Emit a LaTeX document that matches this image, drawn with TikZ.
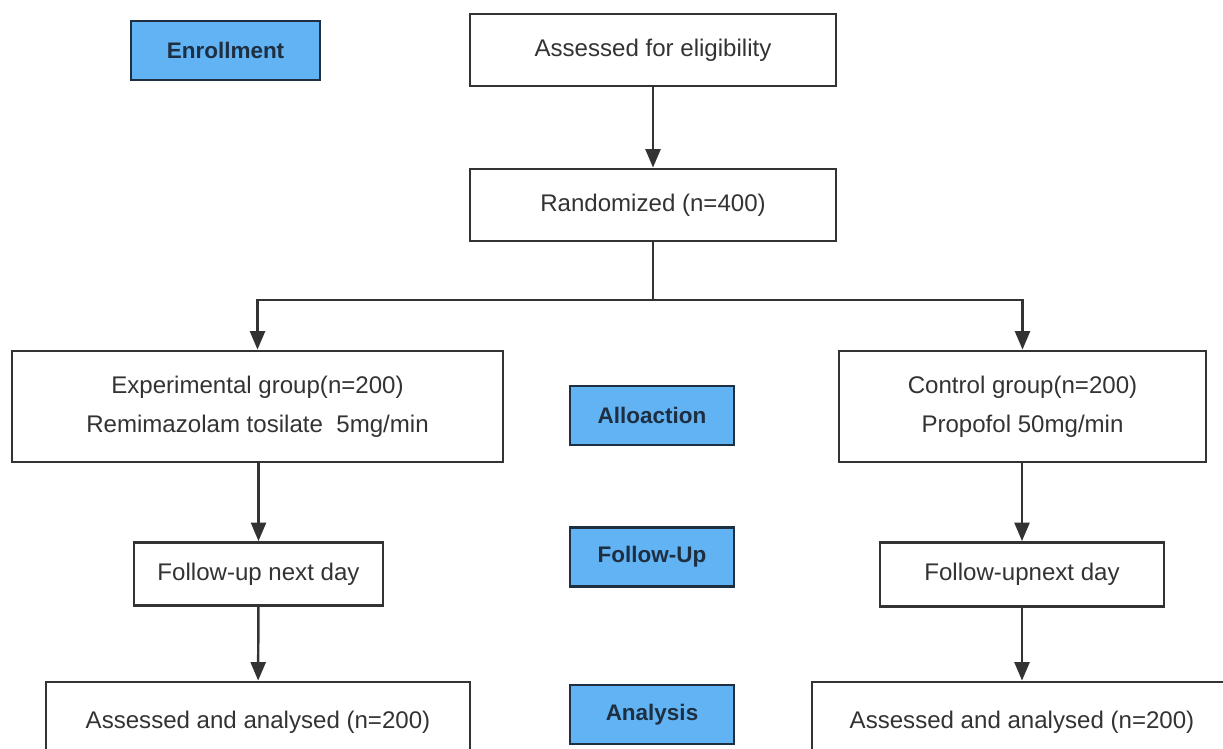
\documentclass[tikz,border=0pt]{standalone}
\usepackage{fontspec}
\setmainfont{Liberation Sans}
\usetikzlibrary{arrows.meta}
\definecolor{edgegray}{HTML}{333333}
\definecolor{phaseblue}{HTML}{62B3F4}
\definecolor{phasetext}{HTML}{1F2F42}

\begin{document}
\begin{tikzpicture}[x=0.02cm, y=-0.02cm,
    box/.style={draw=edgegray, line width=1.6pt, fill=white, text=edgegray,
      inner sep=0pt, align=center, font=\fontsize{13.7}{22}\selectfont},
    phase/.style={draw=phasetext, line width=1.6pt, fill=phaseblue, text=phasetext,
      inner sep=0pt, minimum width=3.28cm, minimum height=1.18cm,
      font=\fontsize{12.8}{15}\selectfont\bfseries},
    flow/.style={draw=edgegray, line width=1.4pt, -{Triangle[length=10.5pt,width=8.5pt]}}]
  \useasboundingbox (0,0) rectangle (1223,748);
  \clip (0,0) rectangle (1223,748);

  % Phase labels (blue)
  \node[phase, minimum width=3.78cm] (enrol) at (225.5,50.5) {Enrollment};
  \node[phase] (alloc) at (652,415.5) {Alloaction};
  \node[phase] (follow) at (652,557) {Follow-Up};
  \node[phase] (analysis) at (652,714.5) {Analysis};

  % Main flow
  \node[box, minimum width=7.32cm, minimum height=1.44cm] (assess) at (653,50) {Assessed for eligibility};
  \node[box, minimum width=7.32cm, minimum height=1.44cm] (random) at (653,205) {Randomized (n=400)};
  \node[box, minimum width=9.82cm, minimum height=2.22cm] (expgroup) at (257.5,406.5)
    {Experimental group(n=200)\\Remimazolam tosilate\ \ 5mg/min};
  \node[box, minimum width=7.34cm, minimum height=2.22cm] (ctrlgroup) at (1022.5,406.5)
    {Control group(n=200)\\Propofol 50mg/min};
  \node[box, minimum width=4.98cm, minimum height=1.26cm] (expfollow) at (258.5,574) {Follow-up next day};
  \node[box, minimum width=5.68cm, minimum height=1.28cm] (ctrlfollow) at (1022,574.5) {Follow-upnext day};
  \node[box, minimum width=8.48cm, minimum height=1.6cm] (expresult) at (258,722) {Assessed and analysed (n=200)};
  \node[box, minimum width=8.4cm, minimum height=1.6cm] (ctrlresult) at (1022,722) {Assessed and analysed (n=200)};

  % Connectors
  \coordinate (split) at (653,300);
  \draw[flow] (assess) -- (random);
  \draw[edgegray, line width=1.4pt] (random) -- (split);
  \draw[flow] (split) -| (expgroup);
  \draw[flow] (split) -| (ctrlgroup);
  \draw[flow] (expgroup.south -| expfollow) -- (expfollow);
  \draw[flow] (ctrlgroup.south -| ctrlfollow) -- (ctrlfollow);
  \draw[flow] (expfollow) -- (expresult);
  \draw[flow] (ctrlfollow) -- (ctrlresult);
\end{tikzpicture}
\end{document}
